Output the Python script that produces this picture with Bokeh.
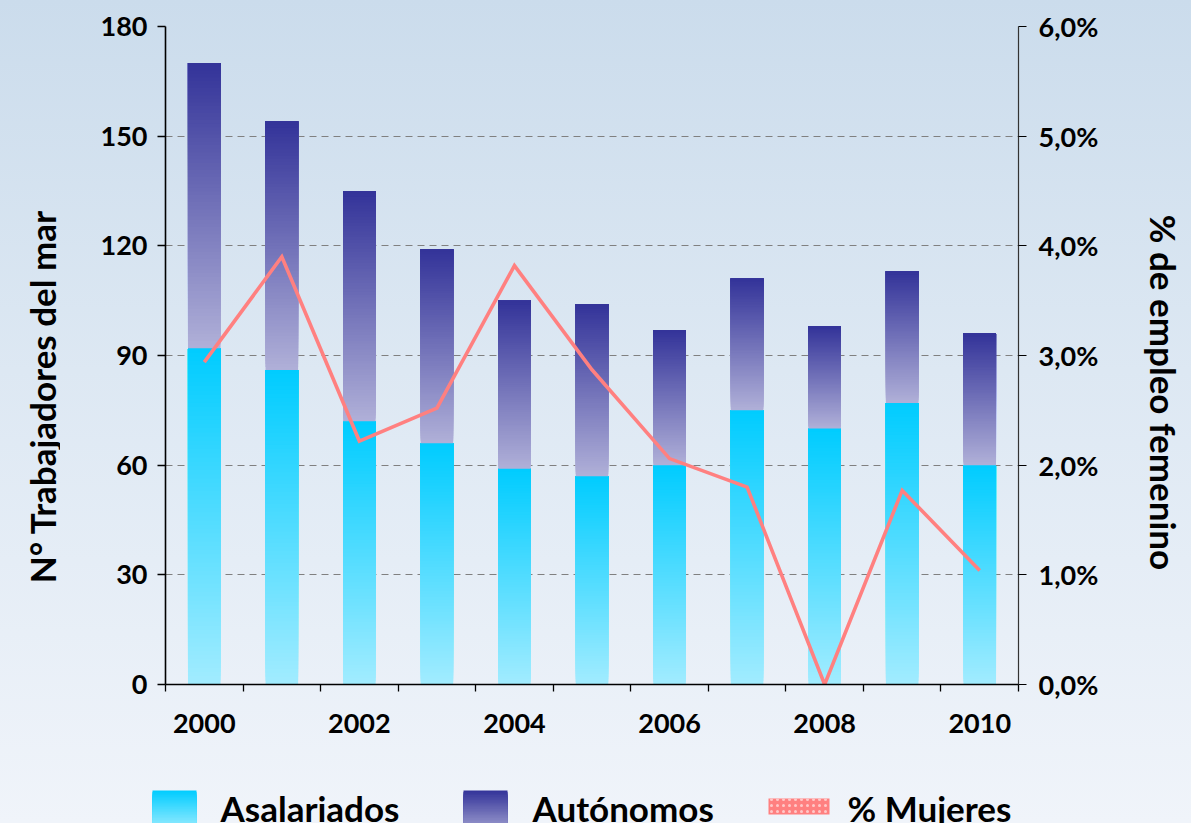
import math
from bokeh.plotting import figure
from bokeh.models import Range1d, LinearAxis, FixedTicker, CustomJSTickFormatter, Label
from bokeh.layouts import column, row
from bokeh.embed import file_html
from bokeh.resources import INLINE

# ---------------- data ----------------
years = [2000, 2001, 2002, 2003, 2004, 2005, 2006, 2007, 2008, 2009, 2010]
asalariados = [92, 86, 72, 66, 59, 57, 60, 75, 70, 77, 60]
autonomos = [78, 68, 63, 53, 46, 47, 37, 36, 28, 36, 36]
pct_mujeres = [2.94, 3.90, 2.22, 2.52, 3.82, 2.87, 2.06, 1.80, 0.0, 1.77, 1.04]
x_tick_years = [2000, 2002, 2004, 2006, 2008, 2010]
y_ticks = [0, 30, 60, 90, 120, 150, 180]
pct_ticks = [0, 1, 2, 3, 4, 5, 6]
series_names = ["Asalariados", "Autónomos", "% Mujeres"]
y_title = "N° Trabajadores del mar"
y2_title = "% de empleo femenino"

FONT = "Lato"
ASAL_TOP, ASAL_BOT = "#00CCFF", "#A2ECFF"
AUTO_TOP, AUTO_BOT = "#333399", "#B0B0D8"
LINE_C = "#FF8080"


def h2r(h):
    h = h.lstrip("#")
    return tuple(int(h[i:i + 2], 16) for i in (0, 2, 4))


def lerp(c0, c1, f):
    a, b = h2r(c0), h2r(c1)
    return "#%02x%02x%02x" % tuple(int(round(a[i] + (b[i] - a[i]) * f)) for i in range(3))


def slices(xs, bottoms, tops, c_bot, c_top, n=80):
    # painter's gradient: each slice runs from its own start up to the segment top,
    # drawn bottom-first, so later slices cover the upper part (no seams)
    X, B, T, C = [], [], [], []
    for k in range(n):
        for x, b, t in zip(xs, bottoms, tops):
            X.append(x)
            B.append(b + (t - b) * k / n)
            T.append(t)
            C.append(lerp(c_bot, c_top, (k + 0.5) / n))
    return dict(x=X, bottom=B, top=T, color=C)


def blank(width, height, xr, yr):
    f = figure(width=width, height=height, x_range=xr, y_range=yr,
               x_axis_location=None, y_axis_location=None,
               output_backend="svg", toolbar_location=None, min_border=0)
    f.background_fill_color = None
    f.border_fill_color = None
    f.outline_line_color = None
    f.grid.visible = False
    f.frame_align = False
    return f


# ---------------- geometry (page pixels) ----------------
W, H = 1191, 823
H_MAIN = 760
LW = 60              # left title strip
RX = 1140            # right title strip starts here
FL, FR, FT, FB = 165, 1018, 26, 684   # frame edges

# ---------------- main chart ----------------
p = figure(width=RX - LW, height=H_MAIN,
           x_range=Range1d(1999.5, 2010.5), y_range=Range1d(0, 180),
           output_backend="svg", toolbar_location=None,
           min_border_left=FL - LW, min_border_right=RX - FR,
           min_border_top=FT, min_border_bottom=H_MAIN - FB)
p.background_fill_color = None
p.border_fill_color = None
p.outline_line_color = None
p.frame_align = False

p.xgrid.visible = False
p.ygrid.ticker = FixedTicker(ticks=y_ticks)
p.ygrid.grid_line_color = "#808080"
p.ygrid.grid_line_dash = "7 5"
p.ygrid.grid_line_width = 1

tot = [a + b for a, b in zip(asalariados, autonomos)]
s1 = slices(years, [0] * len(years), asalariados, ASAL_BOT, ASAL_TOP)
p.vbar(x="x", bottom="bottom", top="top", width=0.42, fill_color="color",
       line_color=None, source=s1)
s2 = slices(years, asalariados, tot, AUTO_BOT, AUTO_TOP)
p.vbar(x="x", bottom="bottom", top="top", width=0.42, fill_color="color",
       line_color=None, source=s2)

p.extra_y_ranges = {"pct": Range1d(0, 6)}
p.line(years, pct_mujeres, y_range_name="pct", line_color=LINE_C,
       line_width=3.6, line_join="miter")

xa = p.xaxis[0]
xa.ticker = FixedTicker(ticks=x_tick_years,
                        minor_ticks=[y - 0.5 for y in years] + [years[-1] + 0.5])
xa.major_tick_line_color = None
xa.major_tick_out = 6
xa.minor_tick_out = 7
xa.minor_tick_in = 0
xa.minor_tick_line_color = "black"
xa.minor_tick_line_width = 1.3
xa.axis_line_color = "black"
xa.axis_line_width = 1.6
xa.major_label_standoff = 22
xa.major_label_text_font = FONT
xa.major_label_text_font_style = "bold"
xa.major_label_text_font_size = "27px"
xa.major_label_text_color = "black"

ya = p.yaxis[0]
ya.ticker = FixedTicker(ticks=y_ticks)
ya.minor_tick_line_color = None
ya.major_tick_out = 8
ya.major_tick_in = 0
ya.major_tick_line_width = 1.3
ya.axis_line_color = "black"
ya.axis_line_width = 1.6
ya.major_label_standoff = 10
ya.major_label_text_font = FONT
ya.major_label_text_font_style = "bold"
ya.major_label_text_font_size = "27px"
ya.major_label_text_color = "black"

ra = LinearAxis(y_range_name="pct", ticker=FixedTicker(ticks=pct_ticks),
                formatter=CustomJSTickFormatter(
                    code="return tick.toFixed(1).replace('.', ',') + '%';"))
ra.minor_tick_line_color = None
ra.major_tick_out = 8
ra.major_tick_in = 0
ra.major_tick_line_width = 1.2
ra.axis_line_color = "#333333"
ra.axis_line_width = 1.2
ra.major_label_standoff = 12
ra.major_label_text_font = FONT
ra.major_label_text_font_style = "bold"
ra.major_label_text_font_size = "27px"
ra.major_label_text_color = "black"
p.add_layout(ra, "right")

# ---------------- axis title strips ----------------
lt = blank(LW, H_MAIN, Range1d(0, LW), Range1d(0, H_MAIN))
lt.add_layout(Label(x=41, y=H_MAIN - 396, text=y_title, angle=math.pi / 2,
                    text_align="center", text_baseline="alphabetic",
                    text_font=FONT, text_font_style="bold",
                    text_font_size="35px", text_color="black"))
rt = blank(W - RX, H_MAIN, Range1d(RX, W), Range1d(0, H_MAIN))
rt.add_layout(Label(x=1163, y=H_MAIN - 392, text=y2_title, angle=-math.pi / 2,
                    text_align="center", text_baseline="alphabetic",
                    text_font=FONT, text_font_style="bold",
                    text_font_size="35px", text_color="black"))

# ---------------- legend strip ----------------
leg = blank(W, H - H_MAIN, Range1d(0, W), Range1d(H, H_MAIN))


def grad_swatch(l, r, t, b, c_top, c_bot, n=30):
    L, R, T, B, C = [], [], [], [], []
    for k in range(n):
        L.append(l)
        R.append(r)
        T.append(t + (b - t) * k / n)
        B.append(b)
        C.append(lerp(c_top, c_bot, (k + 0.5) / n))
    leg.quad(left=L, right=R, top=T, bottom=B, fill_color=C, line_color=None)


grad_swatch(152, 196, 790, 836, ASAL_TOP, "#B8F2FF")
grad_swatch(463, 507, 790, 836, AUTO_TOP, "#B0B0D8")
leg.quad(left=[768], right=[829], top=[798], bottom=[814], fill_color=LINE_C,
         line_color=None, hatch_pattern=".", hatch_color="#FFC8C8",
         hatch_scale=6, hatch_weight=1)

for xx, txt in zip([220, 532, 847], series_names):
    leg.add_layout(Label(x=xx, y=807, text=txt, text_align="left",
                         text_baseline="middle", text_font=FONT,
                         text_font_style="bold", text_font_size="35px",
                         text_color="black"))

root = column(row(lt, p, rt), leg, styles={
    "position": "absolute", "left": "0px", "top": "0px",
    "background": "linear-gradient(180deg, #cbdcec 0%, #dde8f3 45%, #f0f4fa 100%)",
})

open("out.html", "w").write(file_html(root, INLINE))
